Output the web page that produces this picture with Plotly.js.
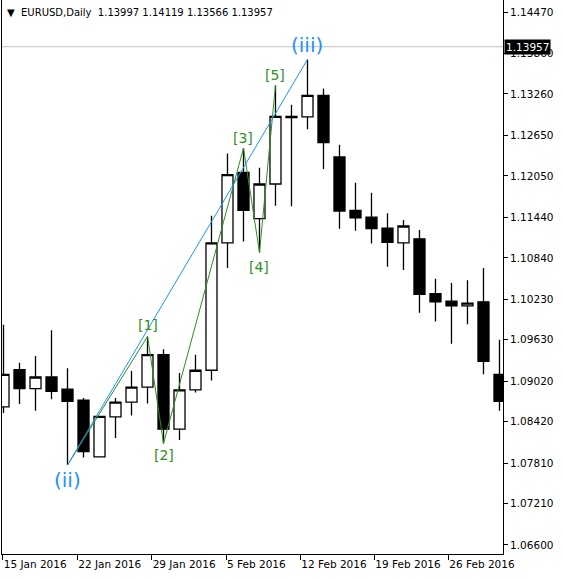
<!DOCTYPE html>
<html><head><meta charset="utf-8">
<script src="https://cdn.plot.ly/plotly-3.0.1.min.js"></script>
<style>html,body{margin:0;padding:0;background:#fff;} #chart{width:563px;height:579px;}</style>
</head><body><div id="chart"></div>
<script>
// ---- data ----
const dates = ['15 Jan','18 Jan','19 Jan','20 Jan','21 Jan','22 Jan','25 Jan','26 Jan','27 Jan','28 Jan','29 Jan',
  '1 Feb','2 Feb','3 Feb','4 Feb','5 Feb','8 Feb','9 Feb','10 Feb','11 Feb','12 Feb',
  '15 Feb','16 Feb','17 Feb','18 Feb','19 Feb','22 Feb','23 Feb','24 Feb','25 Feb','26 Feb','29 Feb'];
const openP  = [1.0864,1.0919,1.0891,1.0908,1.0890,1.0874,1.0790,1.0849,1.0871,1.0893,1.0941,
  1.0831,1.0889,1.0918,1.1106,1.1210,1.1142,1.1193,1.1291,1.1292,1.1324,
  1.1233,1.1154,1.1144,1.1128,1.1106,1.1112,1.1031,1.1020,1.1013,1.1019,1.0912];
const highP  = [1.0985,1.0929,1.0939,1.0977,1.0921,1.0877,1.0850,1.0877,1.0917,1.0968,1.0949,
  1.0914,1.0941,1.1146,1.1238,1.1246,1.1217,1.1339,1.1310,1.1377,1.1334,
  1.1251,1.1195,1.1180,1.1150,1.1140,1.1125,1.1053,1.1047,1.1051,1.1069,1.0963];
const lowP   = [1.0855,1.0868,1.0858,1.0875,1.0778,1.0789,1.0789,1.0818,1.0851,1.0869,1.0810,
  1.0815,1.0885,1.0903,1.1069,1.1108,1.1092,1.1161,1.1160,1.1274,1.1215,
  1.1127,1.1124,1.1105,1.1071,1.1066,1.1003,1.0990,1.0957,1.0986,1.0912,1.0858];
const closeP = [1.0912,1.0891,1.0908,1.0887,1.0872,1.0798,1.0850,1.0871,1.0893,1.0941,1.0831,
  1.0889,1.0918,1.1106,1.1207,1.1154,1.1193,1.1293,1.1293,1.1324,1.1254,
  1.1153,1.1143,1.1127,1.1107,1.1131,1.1030,1.1019,1.1013,1.1017,1.0931,1.0872];

const waveLabels = ['(ii)','[1]','[2]','[3]','[4]','[5]','(iii)'];
const waveIdx    = [4, 9, 10, 15, 16, 17, 19];
const wavePrice  = [1.0778, 1.0968, 1.0810, 1.1246, 1.1092, 1.1339, 1.1377];

const xTickPos  = [-0.05, 4.61, 9.26, 13.91, 18.55, 23.18, 27.80];
const xTickText = ['15 Jan 2016','22 Jan 2016','29 Jan 2016','5 Feb 2016','12 Feb 2016','19 Feb 2016','26 Feb 2016'];
const yTickVals = [1.14470,1.13860,1.13260,1.12650,1.12050,1.11440,1.10840,1.10230,1.09630,1.09020,1.08420,1.07810,1.07210,1.06600];

const symbolTitle = 'EURUSD,Daily';
const headerOHLC = [1.13997, 1.14119, 1.13566, 1.13957];
const currentPrice = 1.13957;

// ---- build ----
const idx = dates.map((d, i) => i);
const FONT = 'DejaVu Sans';
const GREEN = '#2f8f1f';
const BLUE = '#1E90FF';

const traces = [
  {
    type: 'candlestick', x: idx, open: openP, high: highP, low: lowP, close: closeP,
    text: dates, hoverinfo: 'skip', whiskerwidth: 0,
    increasing: {line: {color: '#000', width: 1.3}, fillcolor: '#ffffff'},
    decreasing: {line: {color: '#000', width: 1.3}, fillcolor: '#000000'}
  },
  {
    type: 'scatter', mode: 'lines', hoverinfo: 'skip',
    x: waveIdx.slice(0, 6), y: wavePrice.slice(0, 6),
    line: {color: GREEN, width: 1}
  },
  {
    type: 'scatter', mode: 'lines', hoverinfo: 'skip',
    x: [waveIdx[0], waveIdx[6]], y: [wavePrice[0], wavePrice[6]],
    line: {color: BLUE, width: 1}
  }
];

// label placement (style): pixel shift of label centre from wave point
const labelShift = [-15, 11, -12, 10, -15, 10, 14];
const annotations = waveLabels.map((t, i) => ({
  x: waveIdx[i], y: wavePrice[i], xref: 'x', yref: 'y', text: t, showarrow: false,
  yanchor: 'middle', xanchor: 'center', yshift: labelShift[i],
  font: {family: FONT, size: t.startsWith('(') ? 20 : 14, color: t.startsWith('(') ? BLUE : GREEN}
}));

annotations.push({
  xref: 'paper', yref: 'paper', x: 0, y: 1, xanchor: 'left', yanchor: 'top', xshift: 3, yshift: -5,
  showarrow: false, align: 'left',
  text: '\u25BC\u00a0\u00a0' + symbolTitle + '\u00a0\u00a0' + headerOHLC.map(v => v.toFixed(5)).join('\u00a0'),
  font: {family: FONT, size: 10, color: '#000'}
});
annotations.push({
  xref: 'paper', yref: 'y', x: 1, y: currentPrice, xanchor: 'left', yanchor: 'middle', xshift: 1,
  showarrow: false, text: currentPrice.toFixed(5), bgcolor: '#000', borderpad: 1,
  font: {family: FONT, size: 10.5, color: '#fff'}
});

const layout = {
  width: 563, height: 579,
  margin: {l: 2, r: 60, t: 0, b: 25, pad: 0},
  paper_bgcolor: '#ffffff', plot_bgcolor: '#ffffff',
  showlegend: false,
  boxgap: 0.17, boxgroupgap: 0.17,
  xaxis: {
    range: [-0.094, 31.22], tickvals: xTickPos, ticktext: xTickText, tickangle: 0,
    showgrid: false, zeroline: false, showline: true, linecolor: '#000', linewidth: 1,
    ticks: 'outside', ticklen: 5, tickcolor: '#000', tickwidth: 1,
    ticklabelposition: 'outside right',
    tickfont: {family: FONT, size: 10.5, color: '#000'},
    rangeslider: {visible: false}, fixedrange: true
  },
  yaxis: {
    side: 'right', range: [1.064665, 1.146472],
    tickvals: yTickVals, ticktext: yTickVals.map(v => v.toFixed(5)),
    showgrid: false, zeroline: false, showline: true, mirror: true, linecolor: '#000', linewidth: 1,
    ticks: 'outside', ticklen: 4, tickcolor: '#000', tickwidth: 1,
    tickfont: {family: FONT, size: 10.5, color: '#000'}, fixedrange: true
  },
  shapes: [{
    type: 'line', xref: 'paper', yref: 'y', x0: 0, x1: 1, y0: currentPrice, y1: currentPrice,
    line: {color: '#c0c0c0', width: 1}, layer: 'below'
  }],
  annotations: annotations
};

Plotly.newPlot('chart', traces, layout, {displayModeBar: false, staticPlot: true});
</script>
</body></html>
